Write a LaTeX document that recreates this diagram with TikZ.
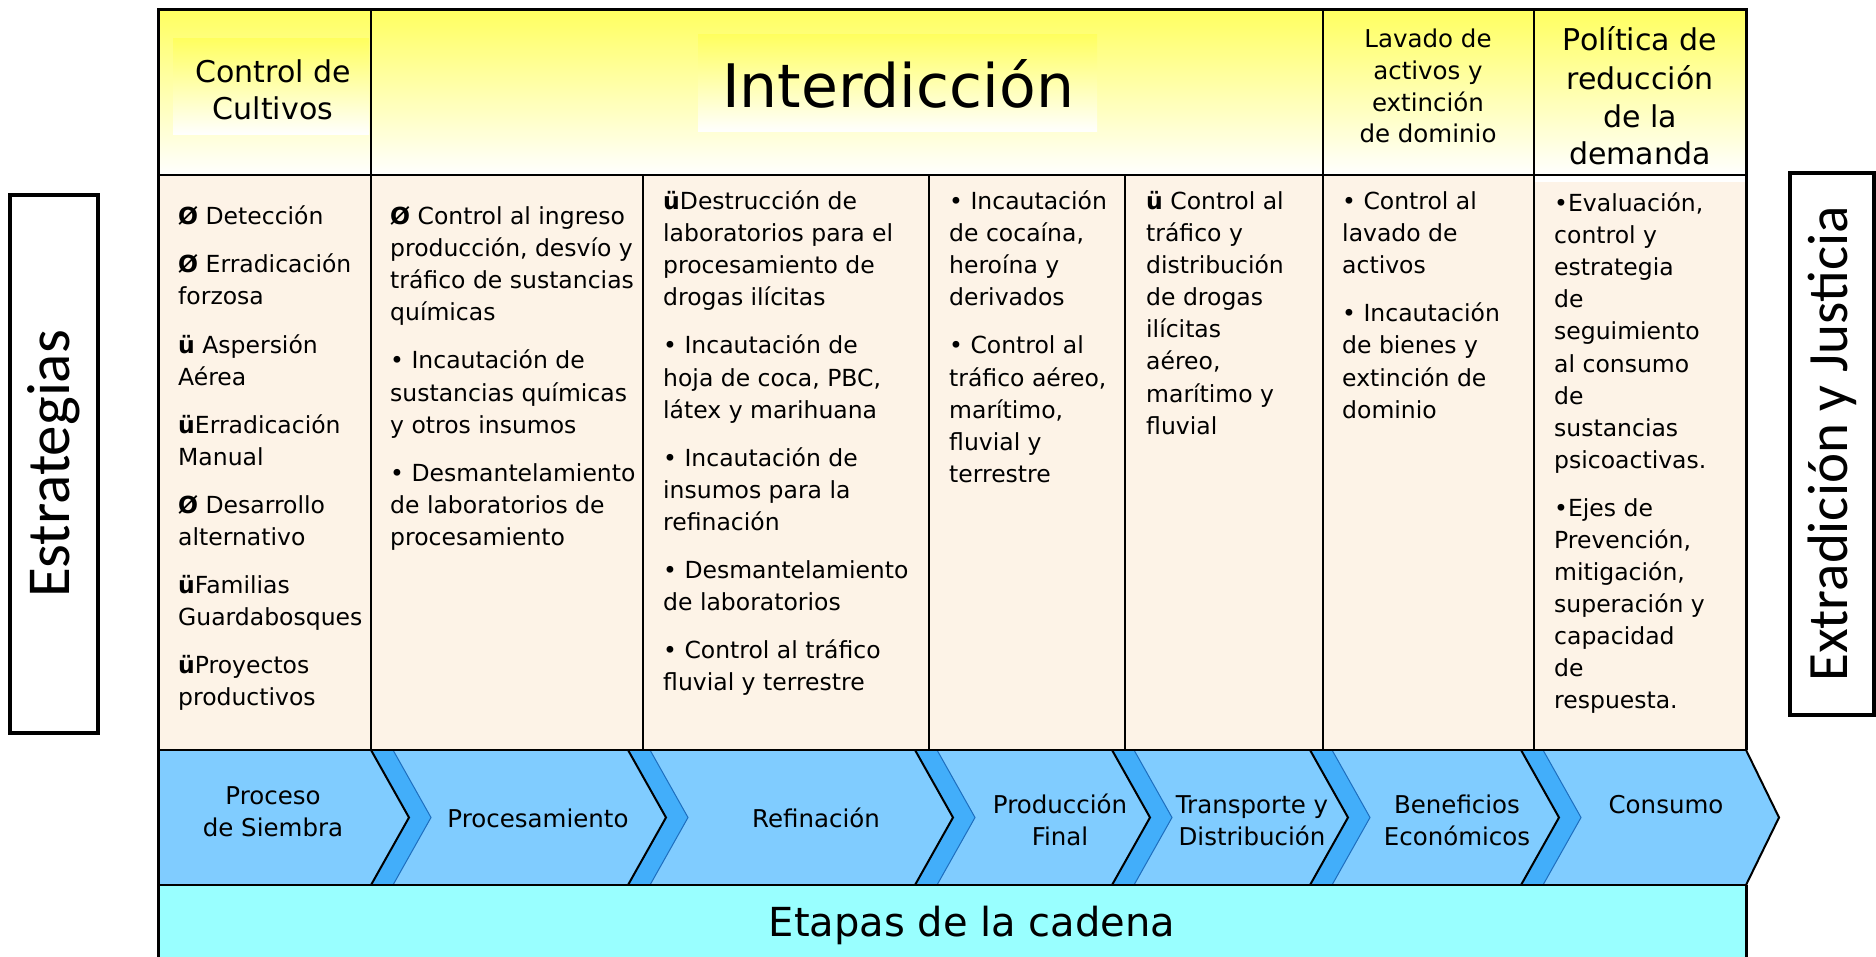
\documentclass[tikz,border=0pt]{standalone}
\usepackage{fontspec}
\setmainfont{DejaVu Sans}
\newfontfamily\sidefont{Carlito}
\definecolor{hdrY}{RGB}{255,255,96}
\definecolor{bodyC}{RGB}{253,243,231}
\definecolor{chevL}{RGB}{128,204,255}
\definecolor{chevD}{RGB}{66,174,250}
\definecolor{chevE}{RGB}{30,110,190}
\definecolor{etapaC}{RGB}{153,255,255}
\tikzset{
  bodytxt/.style={anchor=base west, inner sep=0pt, yshift=-3pt, font=\fontsize{23.5}{28}\selectfont},
  hdrbig/.style={anchor=base, inner sep=0pt, yshift=-1.5pt, font=\fontsize{30}{36}\selectfont},
  hdrsmall/.style={anchor=base, inner sep=0pt, yshift=-1.5pt, font=\fontsize{24.5}{30}\selectfont},
  chevtxt/.style={anchor=base, inner sep=0pt, font=\fontsize{24.5}{30}\selectfont},
  gridline/.style={line width=2pt},
  outerline/.style={line width=3pt},
  sidebox/.style={draw, line width=4pt, fill=white, rotate=90, inner sep=0pt},
  bandfill/.style={fill=chevD},
  bandedge/.style={draw=black, line width=2pt},
  bandedge2/.style={draw=chevE, line width=1pt}
}
\newcommand{\chevband}[1]{%
  \fill[bandfill] (#1,750) -- ({#1+38},817.5) -- (#1,885) -- ({#1+22},885) -- ({#1+60},817.5) -- ({#1+22},750) -- cycle;
  \draw[bandedge2] ({#1+22},750) -- ({#1+60},817.5) -- ({#1+22},885);
  \draw[bandedge] (#1,750) -- ({#1+38},817.5) -- (#1,885);
}
\begin{document}
\begin{tikzpicture}[x=1pt,y=-1pt]
\useasboundingbox (0,0) rectangle (1876,957);
% header
\shade[top color=hdrY, bottom color=white] (158,10) rectangle (1746,175);
\shade[top color=hdrY, bottom color=white] (173,39) rectangle (369,135);
\shade[top color=hdrY, bottom color=white] (698,35) rectangle (1097,132);
% body
\fill[bodyC] (158,175) rectangle (1746,750);
\fill[white] (1534,175) rectangle (1746,182);
% chevron strip
\fill[chevL] (158,750) -- (1746,750) -- (1779,817.5) -- (1746,885) -- (158,885) -- cycle;
\foreach \bx in {371,628,915,1112,1310,1521} {\chevband{\bx}}
\draw[bandedge] (1746,750) -- (1779,817.5) -- (1746,885);
% etapas
\fill[etapaC] (158,885) rectangle (1746,962);
% grid
\draw[gridline] (158,175) -- (1746,175);
\draw[gridline] (158,750) -- (1746,750);
\draw[gridline] (158,885) -- (1746,885);
\draw[gridline] (371,10) -- (371,750);
\draw[gridline] (1323,10) -- (1323,750);
\draw[gridline] (1534,10) -- (1534,750);
\foreach \vx in {643,929,1125} {\draw[gridline] (\vx,175) -- (\vx,750);}
\draw[outerline] (158,962) -- (158,10) -- (1746,10) -- (1746,750);
\draw[outerline] (1746,885) -- (1746,962);
% header texts
\node[hdrbig] (h1a) at (273,81) {Control de};
\node[hdrbig] (h1b) at (273,118) {Cultivos};
\node[anchor=base, inner sep=0pt, font=\fontsize{60}{70}\selectfont] (h2) at (898,108) {Interdicción};
\foreach \t/\y [count=\i] in {Lavado de/46, activos y/78, extinción/110, de dominio/141}
  {\node[hdrsmall] (h3-\i) at (1428,\y) {\t};}
\foreach \t/\y [count=\i] in {Política de/49, reducción/88, de la/126, demanda/163}
  {\node[hdrbig] (h4-\i) at (1640,\y) {\t};}
% column 1
\foreach \t/\y [count=\i] in {\textbf{Ø} Detección/222, \textbf{Ø} Erradicación/270, forzosa/302,
  \textbf{ü} Aspersión/350, Aérea/382, \textbf{ü}Erradicación/430, Manual/462,
  \textbf{Ø} Desarrollo/510, alternativo/542, \textbf{ü}Familias/590, Guardabosques/622,
  \textbf{ü}Proyectos/670, productivos/702}
  {\node[bodytxt] (ca-\i) at (178,\y) {\t};}
% column 2
\foreach \t/\y [count=\i] in {\textbf{Ø} Control al ingreso/222, {producción, desvío y}/254,
  tráfico de sustancias/286, químicas/318, • Incautación de/366, sustancias químicas/398,
  y otros insumos/430, • Desmantelamiento/478, de laboratorios de/510, procesamiento/542}
  {\node[bodytxt] (cb-\i) at (390,\y) {\t};}
% column 3
\foreach \t/\y [count=\i] in {\textbf{ü}Destrucción de/207, laboratorios para el/239,
  procesamiento de/271, drogas ilícitas/303, • Incautación de/351, {hoja de coca, PBC,}/383,
  látex y marihuana/415, • Incautación de/463, insumos para la/495, refinación/527,
  • Desmantelamiento/575, de laboratorios/607, • Control al tráfico/655, fluvial y terrestre/687}
  {\node[bodytxt] (cc-\i) at (663,\y) {\t};}
% column 4
\foreach \t/\y [count=\i] in {• Incautación/207, {de cocaína,}/239, heroína y/271, derivados/303,
  • Control al/351, {tráfico aéreo,}/383, {marítimo,}/415, fluvial y/447, terrestre/479}
  {\node[bodytxt] (cd-\i) at (949,\y) {\t};}
% column 5
\foreach \t/\y [count=\i] in {\textbf{ü} Control al/207, tráfico y/239, distribución/271,
  de drogas/303, ilícitas/335, {aéreo,}/367, marítimo y/399, fluvial/431}
  {\node[bodytxt] (ce-\i) at (1146,\y) {\t};}
% column 6
\foreach \t/\y [count=\i] in {• Control al/207, lavado de/239, activos/271,
  • Incautación/319, de bienes y/351, extinción de/383, dominio/415}
  {\node[bodytxt] (cf-\i) at (1342,\y) {\t};}
% column 7
\foreach \t/\y [count=\i] in {{•Evaluación,}/209, control y/241, estrategia/273, de/305,
  seguimiento/337, al consumo/369, de/401, sustancias/433, psicoactivas./465,
  •Ejes de/513, {Prevención,}/545, {mitigación,}/577, superación y/609, capacidad/641,
  de/673, respuesta./705}
  {\node[bodytxt] (cg-\i) at (1554,\y) {\t};}
% chevron labels
\node[chevtxt] (s1a) at (273,804) {Proceso};
\node[chevtxt] (s1b) at (273,836) {de Siembra};
\node[chevtxt] (s2) at (538,827) {Procesamiento};
\node[chevtxt] (s3) at (816,827) {Refinación};
\node[chevtxt] (s4a) at (1060,813) {Producción};
\node[chevtxt] (s4b) at (1060,845) {Final};
\node[chevtxt] (s5a) at (1252,813) {Transporte y};
\node[chevtxt] (s5b) at (1252,845) {Distribución};
\node[chevtxt] (s6a) at (1457,813) {Beneficios};
\node[chevtxt] (s6b) at (1457,845) {Económicos};
\node[chevtxt] (s7) at (1666,813) {Consumo};
\node[anchor=base, inner sep=0pt, font=\fontsize{40}{48}\selectfont] (etapas) at (972,936) {Etapas de la cadena};
% side boxes
\node[sidebox, minimum width=538pt, minimum height=88pt, font=\sidefont\fontsize{61}{70}\selectfont] (strat) at (54,464) {Estrategias};
\node[sidebox, minimum width=542pt, minimum height=84pt, font=\sidefont\fontsize{57}{66}\selectfont] (extra) at (1832,444) {Extradición y Justicia};
\end{tikzpicture}
\end{document}
